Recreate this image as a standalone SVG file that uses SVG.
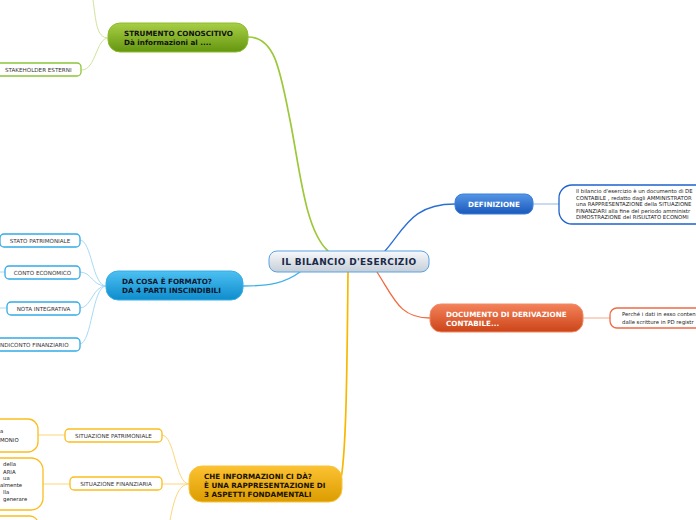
<svg xmlns="http://www.w3.org/2000/svg" width="696" height="520" viewBox="0 0 696 520">
<style>
text{font-family:"DejaVu Sans",Verdana,sans-serif}
.main{font-size:9px;font-weight:bold;fill:#1a2a48;letter-spacing:0.35px}
.big{font-size:7.2px;font-weight:bold}
.small{font-size:5.6px;fill:#333}
.tiny{font-size:5.35px;fill:#222}
.c{fill:none;stroke-linecap:round}
.box{fill:#fff;stroke-width:1.3}
</style>
<defs>
<linearGradient id="gC" x1="0" y1="0" x2="0" y2="1"><stop offset="0" stop-color="#f7f9fb"/><stop offset="1" stop-color="#c5ced8"/></linearGradient>
<linearGradient id="gG" x1="0" y1="0" x2="0" y2="1"><stop offset="0" stop-color="#a8cf45"/><stop offset="1" stop-color="#649610"/></linearGradient>
<linearGradient id="gB" x1="0" y1="0" x2="0" y2="1"><stop offset="0" stop-color="#5596e6"/><stop offset="1" stop-color="#1a58bb"/></linearGradient>
<linearGradient id="gO" x1="0" y1="0" x2="0" y2="1"><stop offset="0" stop-color="#f4825a"/><stop offset="1" stop-color="#cc4418"/></linearGradient>
<linearGradient id="gL" x1="0" y1="0" x2="0" y2="1"><stop offset="0" stop-color="#4cc0f2"/><stop offset="1" stop-color="#0e8ccc"/></linearGradient>
<linearGradient id="gY" x1="0" y1="0" x2="0" y2="1"><stop offset="0" stop-color="#fcc232"/><stop offset="1" stop-color="#dc9c00"/></linearGradient>
</defs>
<g id="connectors">
<path class="c" stroke="#9cc83a" stroke-width="1.7" d="M248 37 C275 37 280 70 290 120 S305 230 328 251"/>
<path class="c" stroke="#cfe49a" stroke-width="1" d="M108 38 C96 38 96 20 93 0"/>
<path class="c" stroke="#cfe49a" stroke-width="1" d="M108 38 C96 38 96 70 82 70"/>
<path class="c" stroke="#2a6fd6" stroke-width="1.3" d="M385 251 C405 228 412 204 455 204"/>
<path class="c" stroke="#8fb6ea" stroke-width="1" d="M533 204 L559 204"/>
<path class="c" stroke="#f06a40" stroke-width="1.3" d="M377 272 C395 300 400 318 430 318"/>
<path class="c" stroke="#f5a88e" stroke-width="1" d="M583 318 L610 318"/>
<path class="c" stroke="#3eb0e8" stroke-width="1.3" d="M300 272 C285 283 270 286 243 286"/>
<path class="c" stroke="#a6dbf5" stroke-width="1" d="M106 286 C92 286 92 240 80 240"/>
<path class="c" stroke="#a6dbf5" stroke-width="1" d="M106 286 C92 286 92 272 80 272"/>
<path class="c" stroke="#a6dbf5" stroke-width="1" d="M106 286 C92 286 92 308 80 308"/>
<path class="c" stroke="#a6dbf5" stroke-width="1" d="M106 286 C92 286 92 344 80 344"/>
<path class="c" stroke="#a6dbf5" stroke-width="1" d="M5 272 L0 272"/>
<path class="c" stroke="#a6dbf5" stroke-width="1" d="M7 308 L0 308"/>
<path class="c" stroke="#f8b800" stroke-width="1.7" d="M348 272 C347 380 346 460 340 484"/>
<path class="c" stroke="#fdd67a" stroke-width="1" d="M189 484 C175 484 175 435 162 435"/>
<path class="c" stroke="#fdd67a" stroke-width="1" d="M189 484 L162 484"/>
<path class="c" stroke="#fdd67a" stroke-width="1" d="M189 484 C178 484 174 500 170 520"/>
<path class="c" stroke="#fdd67a" stroke-width="1" d="M38 435 L65 435"/>
<path class="c" stroke="#fdd67a" stroke-width="1" d="M43 484 L70 484"/>
</g>
<g id="central">
<rect x="269" y="251" width="160" height="21" rx="8" fill="url(#gC)" stroke="#5aa2e2" stroke-width="1"/>
<text class="main" x="349" y="265" text-anchor="middle">IL BILANCIO D'ESERCIZIO</text>
</g>
<g id="strumento">
<rect x="108" y="23" width="140" height="29" rx="12" fill="url(#gG)" stroke="#8cbc2c" stroke-width="1"/>
<text class="big" fill="#111" x="124" y="36">STRUMENTO CONOSCITIVO</text>
<text class="big" fill="#111" x="124" y="45">Dà informazioni al ....</text>
</g>
<g id="stakeholder">
<rect class="box" x="-6" y="63" width="87" height="13" rx="4" stroke="#8cc43a"/>
<text class="small" x="5" y="72">STAKEHOLDER ESTERNI</text>
</g>
<g id="definizione">
<rect x="455" y="194" width="78" height="20" rx="8" fill="url(#gB)" stroke="#3a80dc" stroke-width="1"/>
<text class="big" fill="#fff" x="494" y="207" text-anchor="middle">DEFINIZIONE</text>
</g>
<g id="def-testo">
<rect class="box" x="559" y="185" width="160" height="39" rx="13" stroke="#1e62cc" stroke-width="1.6"/>
<text class="tiny" x="576" y="193">Il bilancio d'esercizio è un documento di DE</text>
<text class="tiny" x="576" y="199.5">CONTABILE , redatto dagli AMMINISTRATOR</text>
<text class="tiny" x="576" y="206">una RAPPRESENTAZIONE della SITUAZIONE</text>
<text class="tiny" x="576" y="212.5">FINANZIARI alla fine del periodo amministr</text>
<text class="tiny" x="576" y="219">DIMOSTRAZIONE del RISULTATO ECONOMI</text>
</g>
<g id="documento">
<rect x="430" y="304" width="153" height="28" rx="11" fill="url(#gO)" stroke="#f08a66" stroke-width="1"/>
<text class="big" fill="#fff" x="446" y="317">DOCUMENTO DI DERIVAZIONE</text>
<text class="big" fill="#fff" x="446" y="326">CONTABILE...</text>
</g>
<g id="doc-testo">
<rect class="box" x="610" y="308" width="110" height="20" rx="7" stroke="#ee6a44"/>
<text class="tiny" x="622" y="316">Perché i dati in esso conten</text>
<text class="tiny" x="622" y="323.5">dalle scritture in PD registr</text>
</g>
<g id="da-cosa">
<rect x="106" y="271" width="137" height="29" rx="12" fill="url(#gL)" stroke="#38aee6" stroke-width="1"/>
<text class="big" fill="#0a1830" x="122" y="284">DA COSA È FORMATO?</text>
<text class="big" fill="#0a1830" x="122" y="293">DA 4 PARTI INSCINDIBILI</text>
</g>
<g id="stato-patrimoniale">
<rect class="box" x="0" y="234" width="80" height="13" rx="4" stroke="#33aae8"/>
<text class="small" x="40" y="243" text-anchor="middle">STATO PATRIMONIALE</text>
</g>
<g id="conto-economico">
<rect class="box" x="5" y="266" width="75" height="13" rx="4" stroke="#33aae8"/>
<text class="small" x="42.5" y="275" text-anchor="middle">CONTO ECONOMICO</text>
</g>
<g id="nota-integrativa">
<rect class="box" x="7" y="302" width="73" height="13" rx="4" stroke="#33aae8"/>
<text class="small" x="43.5" y="311" text-anchor="middle">NOTA INTEGRATIVA</text>
</g>
<g id="rendiconto">
<rect class="box" x="-10" y="338" width="90" height="13" rx="4" stroke="#33aae8"/>
<text class="small" x="0" y="347">NDICONTO FINANZIARIO</text>
</g>
<g id="che-informazioni">
<rect x="189" y="466" width="153" height="36" rx="13" fill="url(#gY)" stroke="#f8c440" stroke-width="1"/>
<text class="big" fill="#1a1200" x="204" y="479">CHE INFORMAZIONI CI DÀ?</text>
<text class="big" fill="#1a1200" x="204" y="488">È UNA RAPPRESENTAZIONE DI</text>
<text class="big" fill="#1a1200" x="204" y="497">3 ASPETTI FONDAMENTALI</text>
</g>
<g id="situazione-patrimoniale">
<rect class="box" x="65" y="429" width="97" height="13" rx="4" stroke="#fbbd1e"/>
<text class="small" x="113.5" y="438" text-anchor="middle">SITUAZIONE PATRIMONIALE</text>
</g>
<g id="situazione-finanziaria">
<rect class="box" x="70" y="477" width="92" height="13" rx="4" stroke="#fbbd1e"/>
<text class="small" x="116" y="486" text-anchor="middle">SITUAZIONE FINANZIARIA</text>
</g>
<g id="patrimonio-testo">
<rect class="box" x="-20" y="419" width="58" height="33" rx="10" stroke="#fbbd1e"/>
<text class="tiny" x="0" y="433">a</text>
<text class="tiny" x="0" y="441.5">MONIO</text>
</g>
<g id="finanziaria-testo">
<rect class="box" x="-20" y="458" width="63" height="52" rx="12" stroke="#fbbd1e"/>
<text class="tiny" x="3" y="466">della</text>
<text class="tiny" x="3" y="473.5">ARIA</text>
<text class="tiny" x="3" y="480">ua</text>
<text class="tiny" x="0" y="487">almente</text>
<text class="tiny" x="3" y="493.5">lla</text>
<text class="tiny" x="3" y="500.5">generare</text>
</g>
<g id="terzo-testo">
<rect class="box" x="-20" y="516" width="58" height="20" rx="8" stroke="#fbbd1e"/>
</g>
</svg>
